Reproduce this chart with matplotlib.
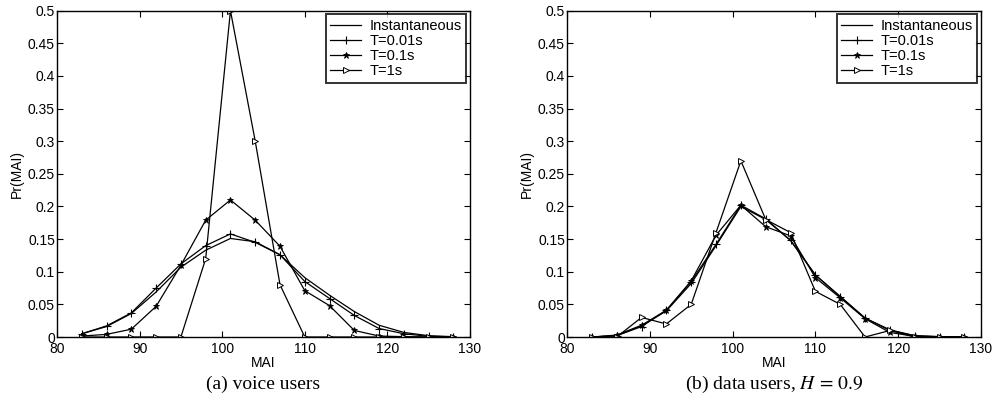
import numpy as np
import matplotlib
matplotlib.use("Agg")
import matplotlib.pyplot as plt
from matplotlib.ticker import FuncFormatter

plt.rcParams['font.family'] = ['Liberation Sans', 'DejaVu Sans']
plt.rcParams['mathtext.fontset'] = 'stix'

# MAI values (common x for every curve)
mai = [83, 86, 89, 92, 95, 98, 101, 104, 107, 110, 113, 116, 119, 122, 125, 128]

# (a) voice users
voice_inst = [0.005, 0.016, 0.036, 0.069, 0.107, 0.133, 0.151, 0.146, 0.126, 0.091,
              0.064, 0.039, 0.018, 0.007, 0.002, 0.0005]
voice_t001 = [0.005, 0.017, 0.037, 0.075, 0.112, 0.140, 0.158, 0.145, 0.126, 0.085,
              0.059, 0.033, 0.013, 0.005, 0.001, 0.0003]
voice_t01 = [0.0015, 0.004, 0.012, 0.047, 0.110, 0.179, 0.210, 0.179, 0.139, 0.071,
             0.048, 0.010, 0.0015, 0.0005, 0.0, 0.0]
voice_t1 = [0, 0, 0, 0, 0, 0.12, 0.50, 0.30, 0.08, 0, 0, 0, 0, 0, 0, 0]

# (b) data users, H = 0.9
data_inst = [0.0, 0.002, 0.017, 0.040, 0.082, 0.140, 0.200, 0.180, 0.148, 0.095,
             0.062, 0.029, 0.011, 0.002, 0.0005, 0.0]
data_t001 = [0.0, 0.002, 0.016, 0.041, 0.085, 0.142, 0.202, 0.181, 0.148, 0.095,
             0.062, 0.029, 0.010, 0.002, 0.0005, 0.0]
data_t01 = [0.0, 0.003, 0.018, 0.041, 0.086, 0.156, 0.202, 0.169, 0.155, 0.091,
            0.060, 0.028, 0.007, 0.001, 0.0, 0.0]
data_t1 = [0, 0, 0.03, 0.02, 0.05, 0.16, 0.27, 0.18, 0.16, 0.07, 0.05, 0.0, 0.01, 0, 0, 0]

series_labels = ['Instantaneous', 'T=0.01s', 'T=0.1s', 'T=1s']
captions = ['(a) voice users', '(b) data users, $H\\,=\\,0.9$']

fig = plt.figure(figsize=(9.93, 4.2), dpi=100)
ax1 = fig.add_axes([0.0574, 0.1976, 0.4159, 0.7769])
ax2 = fig.add_axes([0.5710, 0.1976, 0.4169, 0.7769])

panels = [(ax1, [voice_inst, voice_t001, voice_t01, voice_t1]),
          (ax2, [data_inst, data_t001, data_t01, data_t1])]

styles = [dict(marker=None),
          dict(marker='+', markersize=5.5, mew=0.8),
          dict(marker='*', markersize=4.5, mew=0.6, mfc='black'),
          dict(marker='>', markersize=5, mew=0.7, mfc='white')]

for ax, curves in panels:
    for vals, lab, st in zip(curves, series_labels, styles):
        ax.plot(mai, vals, color='black', lw=0.9, label=lab, **st)

    ax.set_xlim(80, 130)
    ax.set_ylim(0, 0.5)
    ax.set_xticks(np.arange(80, 131, 10))
    ax.set_yticks(np.arange(0, 0.501, 0.05))
    ax.yaxis.set_major_formatter(FuncFormatter(lambda v, p: '%g' % round(v, 2)))
    ax.tick_params(direction='in', top=True, right=True, length=4, width=0.8,
                   labelsize=10, pad=1.5)
    ax.tick_params(axis='x', pad=3.5)
    for sp in ax.spines.values():
        sp.set_linewidth(1.0)
    ax.set_xlabel('MAI', fontsize=10, labelpad=0)
    ax.set_ylabel('Pr(MAI)', fontsize=10, labelpad=3)

    leg = ax.legend(loc='upper right', fontsize=10.5, frameon=True, fancybox=False,
                    handlelength=2.1, handletextpad=0.6, labelspacing=0.08,
                    borderpad=0.3, borderaxespad=0.25)
    leg.get_frame().set_edgecolor('black')
    leg.get_frame().set_linewidth(1.4)

for ax, cap in zip([ax1, ax2], captions):
    pos = ax.get_position()
    fig.text((pos.x0 + pos.x1) / 2, 1 - 384 / 420, cap, ha='center', va='center',
             fontsize=14, family='Liberation Serif')

fig.savefig('out.png', dpi=100)
